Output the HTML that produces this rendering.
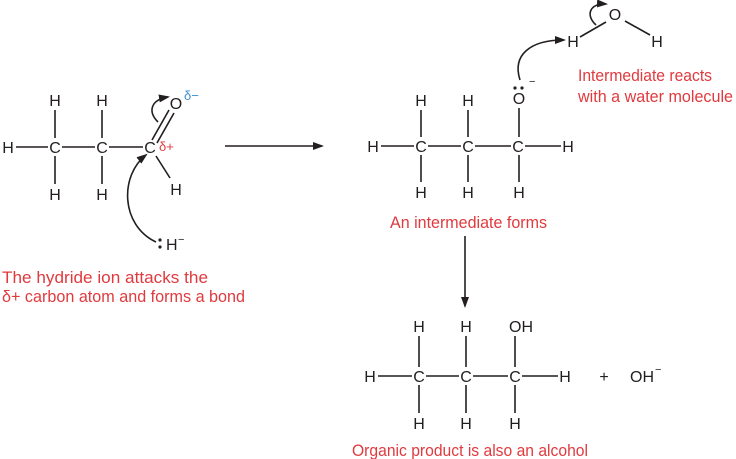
<!DOCTYPE html>
<html><head><meta charset="utf-8"><style>
html,body{margin:0;padding:0;background:#fff;}
svg{display:block;}
text{font-family:"Liberation Sans Narrow","Liberation Sans",sans-serif;font-size:16px;fill:#231f20;}
.r{fill:#e03a3e;font-size:17px;}
.b{fill:#3a8fd0;}
line,path{stroke:#231f20;stroke-width:1.6;fill:none;}
</style></head><body>
<svg width="736" height="459" viewBox="0 0 736 459">
<defs><marker id="a" markerWidth="11" markerHeight="8" refX="9" refY="4" orient="auto" markerUnits="userSpaceOnUse"><path d="M0,0 L11,4 L0,8 Z" style="fill:#231f20;stroke:none"/></marker></defs>
<g text-anchor="middle">
<text x="8" y="153">H</text><text x="55" y="153">C</text><text x="102" y="153">C</text><text x="150" y="153">C</text>
<text x="55" y="106">H</text><text x="102" y="106">H</text>
<text x="55" y="200">H</text><text x="102" y="200">H</text>
<text x="176" y="195">H</text>
<text x="176" y="109">O</text>
</g>
<text class="b" x="184" y="100" style="font-size:13px">δ−</text>
<text class="r" x="159" y="151" style="font-size:13px">δ+</text>
<line x1="16" y1="147" x2="48" y2="147"/><line x1="62" y1="147" x2="95" y2="147"/><line x1="109" y1="147" x2="143" y2="147"/>
<line x1="55" y1="110" x2="55" y2="138"/><line x1="102" y1="110" x2="102" y2="138"/>
<line x1="55" y1="156" x2="55" y2="184"/><line x1="102" y1="156" x2="102" y2="184"/>
<line x1="152" y1="140" x2="169" y2="110"/><line x1="157" y1="143" x2="174" y2="113"/>
<line x1="156" y1="156" x2="170" y2="178"/>
<path d="M158,122 C148,112 150,100 168,97" marker-end="url(#a)"/>
<path d="M156,242 C120,225 120,175 146,155" marker-end="url(#a)"/>
<circle cx="160" cy="240" r="1.6" fill="#231f20"/><circle cx="160" cy="247" r="1.6" fill="#231f20"/>
<text x="166" y="250">H</text><text x="178" y="243" style="font-size:11px">−</text>
<text class="r" x="2" y="283" textLength="206" lengthAdjust="spacingAndGlyphs">The hydride ion attacks the</text>
<text class="r" x="2" y="302" textLength="243" lengthAdjust="spacingAndGlyphs">δ+ carbon atom and forms a bond</text>
<line x1="225" y1="146" x2="322" y2="146" marker-end="url(#a)"/>
<g text-anchor="middle">
<text x="373" y="152">H</text><text x="421" y="152">C</text><text x="468" y="152">C</text><text x="518" y="152">C</text><text x="568" y="152">H</text>
<text x="421" y="106">H</text><text x="468" y="106">H</text><text x="519" y="104">O</text>
<text x="421" y="198">H</text><text x="468" y="198">H</text><text x="519" y="198">H</text>
<text x="573" y="47">H</text><text x="615" y="20">O</text><text x="657" y="47">H</text>
</g>
<text x="390" y="228" class="r" textLength="157" lengthAdjust="spacingAndGlyphs">An intermediate forms</text>
<circle cx="515" cy="88" r="1.6" fill="#231f20"/><circle cx="522" cy="88" r="1.6" fill="#231f20"/>
<text x="529" y="85" style="font-size:11px">−</text>
<line x1="381" y1="146" x2="414" y2="146"/><line x1="428" y1="146" x2="461" y2="146"/><line x1="475" y1="146" x2="511" y2="146"/><line x1="525" y1="146" x2="561" y2="146"/>
<line x1="421" y1="110" x2="421" y2="137"/><line x1="468" y1="110" x2="468" y2="137"/><line x1="519" y1="108" x2="519" y2="137"/>
<line x1="421" y1="155" x2="421" y2="182"/><line x1="468" y1="155" x2="468" y2="182"/><line x1="519" y1="155" x2="519" y2="182"/>
<line x1="580" y1="37" x2="606" y2="22"/><line x1="625" y1="21" x2="650" y2="35"/>
<path d="M520,80 C512,55 530,40 564,40" marker-end="url(#a)"/>
<path d="M596,25 C585,15 590,3 606,4" marker-end="url(#a)"/>
<text class="r" x="578" y="81" textLength="134" lengthAdjust="spacingAndGlyphs">Intermediate reacts</text>
<text class="r" x="578" y="102" textLength="155" lengthAdjust="spacingAndGlyphs">with a water molecule</text>
<line x1="465" y1="236" x2="465" y2="306" marker-end="url(#a)"/>
<g text-anchor="middle">
<text x="370" y="382">H</text><text x="419" y="382">C</text><text x="466" y="382">C</text><text x="515" y="382">C</text><text x="565" y="382">H</text>
<text x="419" y="332">H</text><text x="466" y="332">H</text><text x="521" y="332">OH</text>
<text x="419" y="429">H</text><text x="466" y="429">H</text><text x="515" y="429">H</text>
<text x="604" y="382">+</text>
</g>
<text x="352" y="456" class="r" textLength="236" lengthAdjust="spacingAndGlyphs">Organic product is also an alcohol</text>
<text x="630" y="382">OH</text><text x="655" y="373" style="font-size:11px">−</text>
<line x1="378" y1="376" x2="412" y2="376"/><line x1="426" y1="376" x2="459" y2="376"/><line x1="473" y1="376" x2="508" y2="376"/><line x1="522" y1="376" x2="558" y2="376"/>
<line x1="419" y1="336" x2="419" y2="367"/><line x1="466" y1="336" x2="466" y2="367"/><line x1="515" y1="336" x2="515" y2="367"/>
<line x1="419" y1="385" x2="419" y2="413"/><line x1="466" y1="385" x2="466" y2="413"/><line x1="515" y1="385" x2="515" y2="413"/>
</svg>
</body></html>
